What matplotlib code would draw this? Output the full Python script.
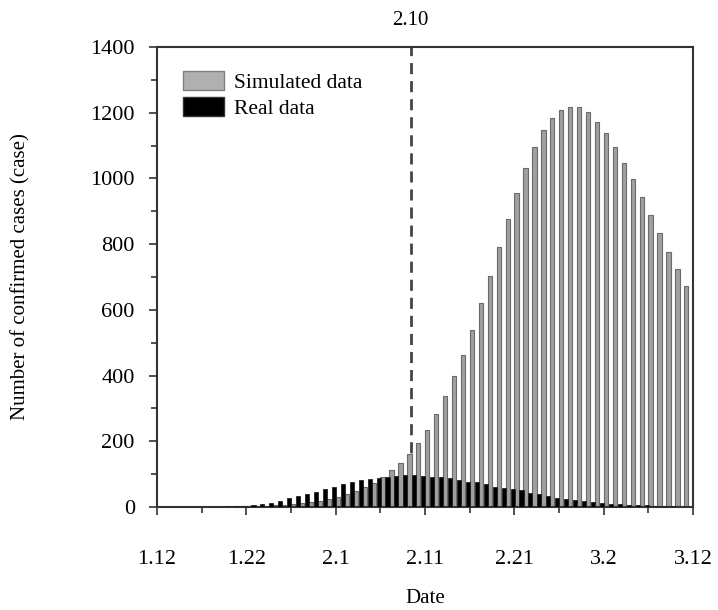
import numpy as np
import matplotlib
matplotlib.use("Agg")
import matplotlib.pyplot as plt
from matplotlib.patches import Patch

plt.rcParams['font.family'] = ['Liberation Serif', 'DejaVu Serif']

# daily counts, day 0 = 1.12 ... day 59 = 3.11
simulated = [0, 0, 0, 0, 0, 0, 0, 1, 1, 2,
             2, 3, 4, 5, 7, 9, 12, 15, 19, 24,
             31, 39, 50, 61, 74, 90, 111, 134, 162, 196,
             235, 282, 337, 398, 463, 540, 620, 703, 792, 876,
             957, 1032, 1095, 1146, 1184, 1208, 1217, 1216, 1201, 1173,
             1137, 1095, 1048, 997, 942, 888, 833, 777, 724, 672]
real = [0, 0, 0, 0, 0, 0, 1, 1, 2, 3,
        4, 6, 9, 13, 19, 26, 33, 40, 47, 55,
        62, 70, 76, 82, 85, 88, 92, 94, 96, 96,
        94, 92, 90, 88, 82, 77, 75, 69, 62, 57,
        55, 52, 42, 39, 33, 28, 25, 20, 17, 15,
        13, 9, 8, 6, 5, 5, 4, 3, 2, 1]
tick_days = [0, 10, 20, 30, 40, 50, 60]
tick_labels = ['1.12', '1.22', '2.1', '2.11', '2.21', '3.2', '3.12']
marker_day = 28.4
marker_label = '2.10'

days = np.arange(len(simulated))

fig = plt.figure(figsize=(7.18, 6.10), dpi=100)
ax = fig.add_axes([0.2187, 0.1689, 0.7465, 0.7541])

ax.axvline(marker_day, color='#444444', lw=2, linestyle=(0, (4, 2.5)), zorder=1)
ax.bar(days + 0.25, simulated, width=0.48, color='#a0a0a0', edgecolor='#6a6a6a',
       linewidth=0.8, zorder=2)
ax.bar(days - 0.2, real, width=0.45, color='black', edgecolor='#222222',
       linewidth=0.6, zorder=3)

ax.set_xlim(0, 60)
ax.set_ylim(0, 1400)
ax.set_xticks(tick_days)
ax.set_xticklabels(tick_labels)
ax.set_xticks(np.arange(5, 60, 10), minor=True)
ax.set_yticks(np.arange(0, 1401, 200))
ax.set_yticks(np.arange(100, 1400, 200), minor=True)

ax.tick_params(axis='both', which='major', direction='out', length=6, width=1.2,
               labelsize=16, color='#333333')
ax.tick_params(axis='both', which='minor', direction='out', length=4, width=1.2,
               color='#333333')
ax.tick_params(axis='x', which='major', pad=25)
ax.tick_params(axis='y', which='major', pad=10)
for s in ax.spines.values():
    s.set_linewidth(1.5)
    s.set_color('#333333')

ax.set_xlabel('Date', fontsize=15)
ax.set_ylabel('Number of confirmed cases (case)', fontsize=15)
ax.xaxis.set_label_coords(0.5, -0.178)
ax.yaxis.set_label_coords(-0.237, 0.5)

ax.text(marker_day, 1.058, marker_label, transform=ax.get_xaxis_transform(),
        ha='center', va='center', fontsize=15)

handles = [Patch(facecolor='#b0b0b0', edgecolor='#808080', label='Simulated data'),
           Patch(facecolor='black', edgecolor='#333333', label='Real data')]
ax.legend(handles=handles, loc='upper left', bbox_to_anchor=(0.048, 0.948),
          frameon=False, fontsize=15.5, handlelength=1.9, handleheight=1.0,
          labelspacing=0.2, handletextpad=0.5, borderaxespad=0, borderpad=0)

fig.savefig('out.png', dpi=100)
